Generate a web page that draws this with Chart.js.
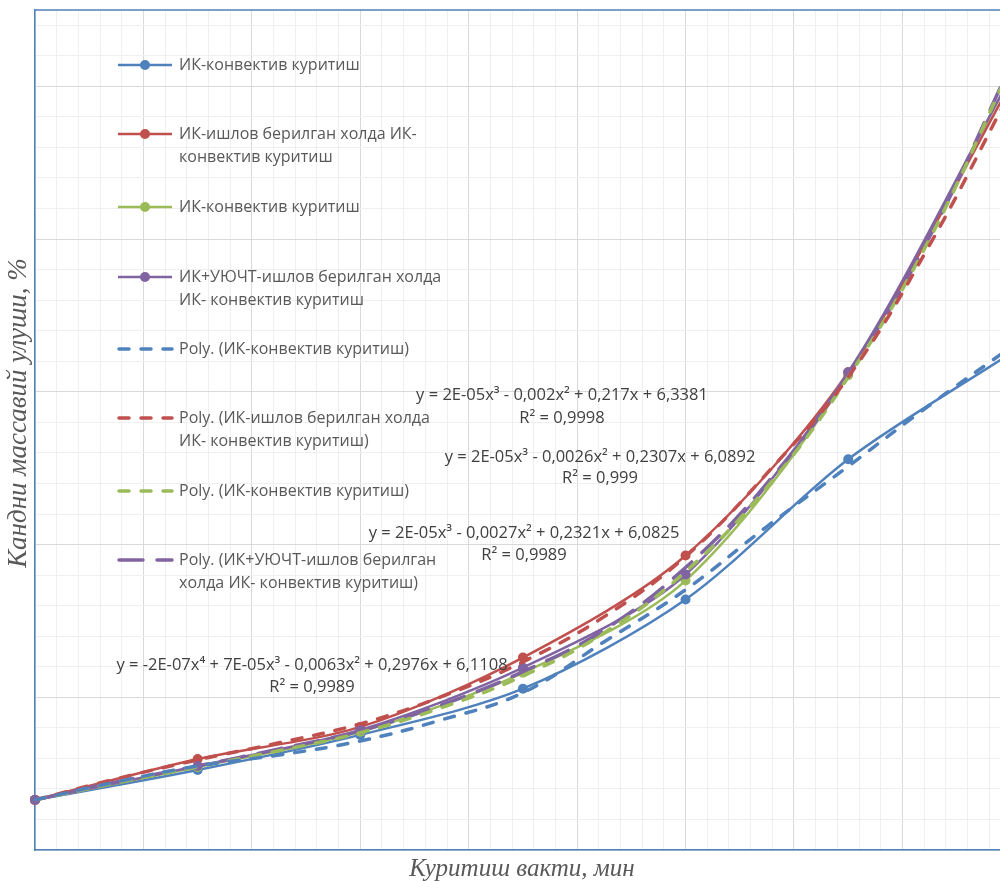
<!DOCTYPE html>
<html lang="uz">
<head>
<meta charset="UTF-8">
<title>Кандни массавий улуши</title>
<script src="https://cdn.jsdelivr.net/npm/chart.js@4.4.1/dist/chart.umd.min.js"></script>
<style>
    html, body { margin: 0; padding: 0; background: #ffffff; overflow: hidden; }
    #wrap { width: 1000px; height: 881px; overflow: hidden; }
</style>
</head>
<body>
<!-- canvas is 5px wider than the page: Chart.js keeps room for the last marker, which sits past the crop -->
<div id="wrap"><canvas id="dryingChart" width="1005" height="881"></canvas></div>
<script>
// measured points, minutes
const timeMin = [0, 15, 30, 45, 60, 75, 90];
const ikConvective = [6.64, 7.62, 8.77, 10.28, 13.20, 17.79, 21.26];
const ikTreated = [6.64, 7.98, 9.03, 11.30, 14.64, 20.64, 30.08];
const ikConvective2 = [6.64, 7.72, 8.87, 10.80, 13.82, 20.54, 30.31];
const ikUzTreated = [6.64, 7.75, 8.93, 10.97, 14.02, 20.64, 30.31];

// polynomial trend lines
const trendTime = [0, 7.5, 15, 22.5, 30, 37.5, 45, 52.5, 60, 67.5, 75, 82.5, 90];
const polyIkConvective = [6.64, 7.23, 7.75, 8.11, 8.57, 9.26, 10.15, 11.82, 13.52, 15.59, 17.56, 19.56, 21.46];
const polyIkTreated = [6.64, 7.33, 7.95, 8.51, 9.13, 10.02, 11.16, 12.64, 14.61, 17.33, 20.48, 24.80, 29.85];
const polyIkConvective2 = [6.64, 7.20, 7.72, 8.25, 8.84, 9.66, 10.70, 12.11, 14.11, 16.87, 20.48, 25.00, 30.64];
const polyIkUzTreated = [6.64, 7.23, 7.75, 8.31, 8.90, 9.75, 10.84, 12.21, 14.25, 17.00, 20.57, 25.07, 30.70];

const seriesNames = [
    ['ИК-конвектив куритиш'],
    ['ИК-ишлов берилган холда ИК-', 'конвектив куритиш'],
    ['ИК-конвектив куритиш'],
    ['ИК+УЮЧТ-ишлов берилган холда', 'ИК- конвектив куритиш']
];
const trendNames = [
    ['Poly. (ИК-конвектив куритиш)'],
    ['Poly. (ИК-ишлов берилган холда', 'ИК- конвектив куритиш)'],
    ['Poly. (ИК-конвектив куритиш)'],
    ['Poly. (ИК+УЮЧТ-ишлов берилган', 'холда ИК- конвектив куритиш)']
];
const equations = [
    ['y = 2E-05x³ - 0,002x² + 0,217x + 6,3381', 'R² = 0,9998'],
    ['y = 2E-05x³ - 0,0026x² + 0,2307x + 6,0892', 'R² = 0,999'],
    ['y = 2E-05x³ - 0,0027x² + 0,2321x + 6,0825', 'R² = 0,9989'],
    ['y = -2E-07x⁴ + 7E-05x³ - 0,0063x² + 0,2976x + 6,1108', 'R² = 0,9989']
];
const xTitle = 'Куритиш вакти, мин';
const yTitle = 'Кандни массавий улуши, %';

const colors = ['#4F81BD', '#C0504D', '#9BBB59', '#8064A2'];
const dashes = [[10, 12], [10, 12], [10, 12], [24, 14]];

function pts(xs, ys) {
    return xs.map((x, i) => ({ x: x, y: ys[i] }));
}

document.addEventListener('DOMContentLoaded', function() {
    const measured = [ikConvective, ikTreated, ikConvective2, ikUzTreated];
    const trends = [polyIkConvective, polyIkTreated, polyIkConvective2, polyIkUzTreated];
    const clipBox = { left: 10, top: 0, right: 0, bottom: 10 };

    const datasets = [];
    trends.forEach((vals, i) => {
        datasets.push({
            label: trendNames[i].join(' '),
            data: pts(trendTime, vals),
            borderColor: colors[i],
            borderWidth: 3.5,
            borderDash: dashes[i],
            borderCapStyle: 'round',
            pointRadius: 0,
            tension: 0.4,
            clip: clipBox,
            order: i
        });
    });
    const solidOrder = [7, 5, 6, 4];
    measured.forEach((vals, i) => {
        datasets.push({
            label: seriesNames[i].join(' '),
            data: pts(timeMin, vals),
            borderColor: colors[i],
            backgroundColor: colors[i],
            borderWidth: 2.5,
            pointRadius: 5,
            pointBorderWidth: 0,
            tension: 0.3,
            clip: clipBox,
            order: solidOrder[i]
        });
    });

    const overlay = {
        id: 'overlay',
        afterDraw(chart) {
            const c = chart.ctx;
            const area = chart.chartArea;
            c.save();

            // top border of plot area
            c.strokeStyle = '#4F81BD';
            c.lineWidth = 1.5;
            c.beginPath();
            c.moveTo(area.left, area.top);
            c.lineTo(area.right, area.top);
            c.stroke();

            // legend inside the plot
            const rowsY = [65, 134, 207, 277, 349, 418, 491, 560];
            const names = seriesNames.concat(trendNames);
            c.font = '16px "Open Sans"';
            c.textBaseline = 'middle';
            c.textAlign = 'left';
            names.forEach((lines, k) => {
                const i = k % 4;
                const y = rowsY[k];
                c.save();
                c.strokeStyle = colors[i];
                if (k < 4) {
                    c.lineWidth = 2.5;
                    c.beginPath();
                    c.moveTo(118, y);
                    c.lineTo(172, y);
                    c.stroke();
                    c.fillStyle = colors[i];
                    c.beginPath();
                    c.arc(145, y, 5, 0, Math.PI * 2);
                    c.fill();
                } else {
                    c.lineWidth = 3.5;
                    c.lineCap = 'round';
                    c.setLineDash(dashes[i]);
                    c.beginPath();
                    c.moveTo(119, y);
                    c.lineTo(172, y);
                    c.stroke();
                }
                c.restore();
                c.fillStyle = '#595959';
                lines.forEach((t, j) => c.fillText(t, 179, y + j * 23));
            });

            // trend line equations
            const eqPos = [[562, 395, 418], [600, 457, 478], [524, 533, 555], [312, 665, 687]];
            c.fillStyle = '#404040';
            c.textAlign = 'center';
            c.font = '16.5px "Open Sans"';
            equations.forEach((eq, i) => {
                c.fillText(eq[0], eqPos[i][0], eqPos[i][1]);
                c.fillText(eq[1], eqPos[i][0], eqPos[i][2]);
            });

            // axis titles
            c.fillStyle = '#595959';
            c.font = 'italic 25px "Liberation Serif"';
            c.fillText(xTitle, 522, 869);
            c.font = 'italic 27px "Liberation Serif"';
            c.translate(19, 413);
            c.rotate(-Math.PI / 2);
            c.fillText(yTitle, 0, 0);
            c.restore();
        }
    };

    new Chart(document.getElementById('dryingChart'), {
        type: 'line',
        data: { datasets: datasets },
        options: {
            responsive: false,
            devicePixelRatio: 1,
            animation: false,
            layout: { padding: { left: 35, top: 10, right: 0, bottom: 31 } },
            plugins: {
                legend: { display: false },
                tooltip: { enabled: false }
            },
            scales: {
                x: {
                    type: 'linear',
                    min: 0,
                    max: 89,
                    ticks: { display: false, stepSize: 2, maxTicksLimit: 200, includeBounds: false },
                    grid: {
                        drawTicks: false,
                        color: ctx => (ctx.tick && ctx.tick.value % 10 === 0) ? '#D9D9D9' : '#EFEFEF',
                        lineWidth: 1
                    },
                    border: { color: '#4F81BD', width: 1.5 }
                },
                y: {
                    type: 'linear',
                    min: 5,
                    max: 32.5,
                    ticks: { display: false, stepSize: 1, maxTicksLimit: 200, includeBounds: false },
                    grid: {
                        drawTicks: false,
                        color: ctx => (ctx.tick && (ctx.tick.value - 5) % 5 === 0) ? '#D9D9D9' : '#EFEFEF',
                        lineWidth: 1
                    },
                    border: { color: '#4F81BD', width: 1.5 }
                }
            }
        },
        plugins: [overlay]
    });
});
</script>
</body>
</html>
